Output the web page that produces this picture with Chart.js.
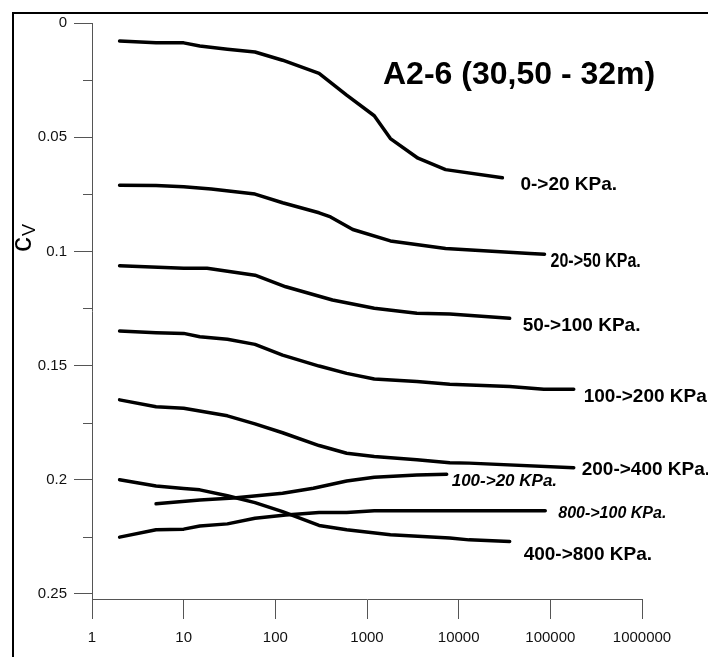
<!DOCTYPE html>
<html>
<head>
<meta charset="utf-8">
<script src="https://cdn.jsdelivr.net/npm/chart.js@4.4.1/dist/chart.umd.min.js"></script>
<style>
  html, body { margin: 0; padding: 0; background: #fff; }
  #wrap { position: relative; width: 708px; height: 657px; overflow: hidden; }
  #frame { position: absolute; left: 12px; top: 12px; width: 800px; height: 800px;
           border-left: 2px solid #000; border-top: 2px solid #000; box-sizing: border-box; }
  canvas { position: absolute; left: 0; top: 0; }
</style>
</head>
<body>
<div id="wrap">
  <div id="frame"></div>
  <canvas id="c" width="708" height="657"></canvas>
</div>
<script>
// ---- data (time on log axis, cv values) ----
const xTickValues = [1, 10, 100, 1000, 10000, 100000, 1000000];
const yTickValues = [0, 0.05, 0.1, 0.15, 0.2, 0.25];
const yMinorValues = [0.025, 0.075, 0.125, 0.175, 0.225];

const seriesNames = ["0->20 KPa.", "20->50 KPa.", "50->100 KPa.", "100->200 KPa",
                     "200->400 KPa.", "400->800 KPa.", "100->20 KPa.", "800->100 KPa."];

const t_0_20   = [2, 5, 10, 15, 30, 60, 120, 300, 600, 1200, 1800, 3600, 7200, 30000];
const cv_0_20  = [0.0079, 0.0087, 0.0087, 0.0101, 0.0115, 0.0127, 0.0163, 0.0221, 0.0316, 0.0406, 0.0506, 0.0592, 0.0642, 0.0678];

const t_20_50  = [2, 5, 10, 20, 60, 120, 300, 400, 700, 1800, 7200, 60000, 86400];
const cv_20_50 = [0.0710, 0.0712, 0.0717, 0.0727, 0.0749, 0.0787, 0.0831, 0.0849, 0.0904, 0.0954, 0.0987, 0.1009, 0.1012];

const t_50_100  = [2, 10, 18, 60, 130, 420, 1200, 3500, 8000, 36000];
const cv_50_100 = [0.1063, 0.1074, 0.1074, 0.1104, 0.1155, 0.1213, 0.1249, 0.1271, 0.1274, 0.1293];

const t_100_200  = [2, 5, 10, 15, 30, 60, 120, 300, 600, 1200, 3500, 8000, 36000, 85000, 180000];
const cv_100_200 = [0.1349, 0.1356, 0.1359, 0.1374, 0.1385, 0.1407, 0.1454, 0.1502, 0.1534, 0.1559, 0.1570, 0.1582, 0.1592, 0.1604, 0.1604];

const t_200_400  = [2, 5, 10, 30, 60, 120, 300, 600, 1200, 3500, 8000, 13000, 180000];
const cv_200_400 = [0.1650, 0.1680, 0.1687, 0.1720, 0.1755, 0.1794, 0.1850, 0.1884, 0.1898, 0.1912, 0.1925, 0.1927, 0.1947];

const t_400_800  = [2, 5, 10, 15, 30, 60, 120, 300, 600, 1800, 8000, 13000, 36000];
const cv_400_800 = [0.2000, 0.2027, 0.2038, 0.2044, 0.2070, 0.2100, 0.2139, 0.2200, 0.2219, 0.2241, 0.2255, 0.2263, 0.2270];

const t_100_20  = [5, 15, 35, 120, 260, 600, 1200, 3500, 7400];
const cv_100_20 = [0.2105, 0.2088, 0.2080, 0.2059, 0.2037, 0.2005, 0.1989, 0.1979, 0.1976];

const t_800_100  = [2, 5, 10, 15, 30, 60, 130, 300, 600, 1200, 8000, 88000];
const cv_800_100 = [0.2251, 0.2219, 0.2216, 0.2202, 0.2193, 0.2168, 0.2154, 0.2143, 0.2143, 0.2135, 0.2135, 0.2135];

const seriesT  = [t_0_20, t_20_50, t_50_100, t_100_200, t_200_400, t_400_800, t_100_20, t_800_100];
const seriesCv = [cv_0_20, cv_20_50, cv_50_100, cv_100_200, cv_200_400, cv_400_800, cv_100_20, cv_800_100];

// ---- styles (pixel offsets of end labels from last point) ----
const FONT = "'Liberation Sans', Arial, Helvetica, sans-serif";
const labelStyle = [
  { dx: 18, dy: 7,  font: "bold 19px " + FONT, sx: 1 },
  { dx: 6,  dy: 7,  font: "bold 20px " + FONT, sx: 0.8 },
  { dx: 13, dy: 7,  font: "bold 19px " + FONT, sx: 1 },
  { dx: 10, dy: 7,  font: "bold 19px " + FONT, sx: 1 },
  { dx: 8,  dy: 2,  font: "bold 19px " + FONT, sx: 1 },
  { dx: 14, dy: 13, font: "bold 19px " + FONT, sx: 1 },
  { dx: 5,  dy: 7,  font: "italic bold 17px " + FONT, sx: 1 },
  { dx: 13, dy: 3,  font: "italic bold 16px " + FONT, sx: 1 }
];

const datasets = seriesT.map((t, i) => ({
  label: seriesNames[i],
  data: t.map((x, k) => ({ x: x, y: seriesCv[i][k] })),
  borderColor: '#000',
  borderWidth: 3.5,
  pointRadius: 0,
  tension: 0,
  fill: false,
  borderCapStyle: 'round',
  borderJoinStyle: 'round'
}));

const decor = {
  id: 'decor',
  afterDraw(chart) {
    const ctx = chart.ctx;
    const xs = chart.scales.x, ys = chart.scales.y;
    // minor ticks on y axis
    ctx.save();
    ctx.strokeStyle = '#555';
    ctx.lineWidth = 1;
    ctx.beginPath();
    yMinorValues.forEach(v => {
      const py = Math.round(ys.getPixelForValue(v)) + 0.5;
      ctx.moveTo(ys.right - 9, py);
      ctx.lineTo(ys.right, py);
    });
    ctx.stroke();
    ctx.restore();

    // end labels
    ctx.save();
    ctx.fillStyle = '#000';
    ctx.textBaseline = 'middle';
    ctx.textAlign = 'left';
    seriesT.forEach((t, i) => {
      const n = t.length - 1;
      const px = xs.getPixelForValue(t[n]);
      const py = ys.getPixelForValue(seriesCv[i][n]);
      const st = labelStyle[i];
      ctx.save();
      ctx.font = st.font;
      ctx.translate(px + st.dx, py + st.dy);
      ctx.scale(st.sx, 1);
      ctx.fillText(seriesNames[i], 0, 0);
      ctx.restore();
    });
    ctx.restore();

    // title
    ctx.save();
    ctx.fillStyle = '#000';
    ctx.font = "bold 32px " + FONT;
    ctx.textBaseline = 'alphabetic';
    ctx.textAlign = 'left';
    ctx.fillText("A2-6 (30,50 - 32m)", 383, 84);
    ctx.restore();

    // y axis title c_V
    ctx.save();
    ctx.fillStyle = '#000';
    ctx.translate(31, 252);
    ctx.rotate(-Math.PI / 2);
    ctx.textBaseline = 'alphabetic';
    ctx.textAlign = 'left';
    ctx.font = "30px " + FONT;
    ctx.fillText("c", 0, 0);
    const w = ctx.measureText("c").width;
    ctx.font = "18px " + FONT;
    ctx.fillText("V", w + 1, 4);
    ctx.restore();
  }
};

new Chart(document.getElementById('c'), {
  type: 'line',
  data: { datasets: datasets },
  plugins: [decor],
  options: {
    responsive: false,
    animation: false,
    devicePixelRatio: 1,
    parsing: true,
    layout: { padding: { left: 0, right: 66, top: 23, bottom: 0 } },
    plugins: { legend: { display: false }, tooltip: { enabled: false }, title: { display: false } },
    scales: {
      x: {
        type: 'logarithmic',
        position: 'bottom',
        min: 1,
        max: 1000000,
        afterBuildTicks: s => { s.ticks = xTickValues.map(v => ({ value: v })); },
        afterFit: s => { s.height = 58; },
        ticks: {
          autoSkip: false, maxRotation: 0, minRotation: 0,
          padding: 10,
          color: '#111',
          font: { family: FONT, size: 15 },
          callback: v => String(v)
        },
        grid: { drawOnChartArea: false, tickLength: 20, color: '#555', lineWidth: 1 },
        border: { display: true, color: '#555', width: 1 }
      },
      y: {
        type: 'linear',
        position: 'left',
        reverse: true,
        min: 0,
        max: 0.25219,
        afterBuildTicks: s => { s.ticks = yTickValues.map(v => ({ value: v })); },
        afterFit: s => { s.width = 92; },
        ticks: {
          autoSkip: false,
          padding: 7,
          color: '#111',
          font: { family: FONT, size: 15 },
          callback: v => String(Number(v.toFixed(3)))
        },
        grid: { drawOnChartArea: false, tickLength: 18, color: '#555', lineWidth: 1 },
        border: { display: true, color: '#555', width: 1 }
      }
    }
  }
});
</script>
</body>
</html>
